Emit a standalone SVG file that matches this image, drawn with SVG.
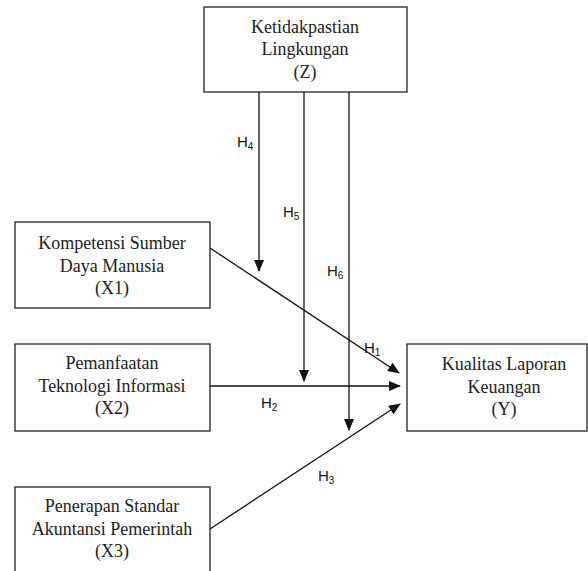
<svg xmlns="http://www.w3.org/2000/svg" width="588" height="571" viewBox="0 0 588 571">
<style>
.box{fill:#fff;stroke:#222;stroke-width:1.3}
.t{font-family:"Liberation Serif","Times New Roman",serif;font-size:18px;fill:#222;text-anchor:middle}
.c{stroke:#111;stroke-width:1.3;fill:none}
.h{font-family:"Liberation Sans",Arial,sans-serif;font-size:15px;fill:#111}
.s{font-size:10px}
</style>
<defs>
<marker id="ah" markerWidth="12" markerHeight="10" refX="11" refY="5" orient="auto" markerUnits="userSpaceOnUse">
<path d="M0,0 L12,5 L0,10 Z" fill="#111"/>
</marker>
</defs>
<rect width="588" height="571" fill="#fff"/>
<g id="connectors">
<line class="c" x1="259" y1="92" x2="259" y2="271" marker-end="url(#ah)"/>
<line class="c" x1="304" y1="92" x2="304" y2="381" marker-end="url(#ah)"/>
<line class="c" x1="349" y1="92" x2="349" y2="430" marker-end="url(#ah)"/>
<line class="c" x1="210" y1="248" x2="399" y2="373" marker-end="url(#ah)"/>
<line class="c" x1="210" y1="386" x2="400" y2="386" marker-end="url(#ah)"/>
<line class="c" x1="210" y1="529" x2="400" y2="404" marker-end="url(#ah)"/>
<text class="h" x="237" y="147">H<tspan class="s" dy="3">4</tspan></text>
<text class="h" x="283" y="217">H<tspan class="s" dy="3">5</tspan></text>
<text class="h" x="327" y="276">H<tspan class="s" dy="3">6</tspan></text>
<text class="h" x="364" y="353">H<tspan class="s" dy="3">1</tspan></text>
<text class="h" x="261" y="408">H<tspan class="s" dy="3">2</tspan></text>
<text class="h" x="318" y="481">H<tspan class="s" dy="3">3</tspan></text>
</g>
<g id="Z">
<rect class="box" x="204" y="7" width="203" height="85"/>
<text class="t" x="305" y="33">Ketidakpastian</text>
<text class="t" x="305" y="55">Lingkungan</text>
<text class="t" x="305" y="78">(Z)</text>
</g>
<g id="X1">
<rect class="box" x="15" y="222" width="195" height="86"/>
<text class="t" x="112" y="249">Kompetensi Sumber</text>
<text class="t" x="112" y="272">Daya Manusia</text>
<text class="t" x="112" y="294">(X1)</text>
</g>
<g id="X2">
<rect class="box" x="15" y="344" width="195" height="87"/>
<text class="t" x="112" y="369">Pemanfaatan</text>
<text class="t" x="112" y="392">Teknologi Informasi</text>
<text class="t" x="112" y="414">(X2)</text>
</g>
<g id="X3">
<rect class="box" x="15" y="487" width="195" height="100"/>
<text class="t" x="112" y="512">Penerapan Standar</text>
<text class="t" x="112" y="535">Akuntansi Pemerintah</text>
<text class="t" x="112" y="557">(X3)</text>
</g>
<g id="Y">
<rect class="box" x="407" y="344" width="180" height="87"/>
<text class="t" x="504" y="370">Kualitas Laporan</text>
<text class="t" x="504" y="393">Keuangan</text>
<text class="t" x="504" y="415">(Y)</text>
</g>
</svg>
